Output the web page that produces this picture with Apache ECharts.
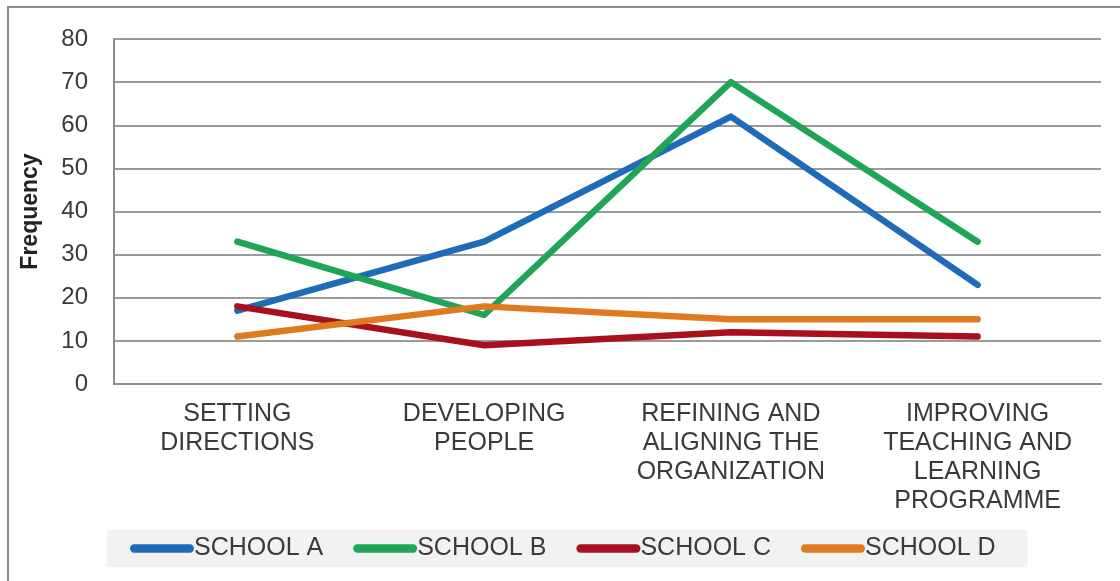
<!DOCTYPE html>
<html style="height: 100%">
<head>
<meta charset="utf-8">
<script src="https://cdn.jsdelivr.net/npm/echarts@6/dist/echarts.min.js"></script>
</head>
<body style="height: 100%; margin: 0; background: #fff">
<div id="container" style="width: 1120px; height: 581px"></div>
<script type="text/javascript">
var categories = [
    'SETTING\nDIRECTIONS',
    'DEVELOPING\nPEOPLE',
    'REFINING AND\nALIGNING THE\nORGANIZATION',
    'IMPROVING\nTEACHING AND\nLEARNING\nPROGRAMME'
];
var schoolNames = ['SCHOOL A', 'SCHOOL B', 'SCHOOL C', 'SCHOOL D'];
var schoolA = [17, 33, 62, 23];
var schoolB = [33, 16, 70, 33];
var schoolC = [18, 9, 12, 11];
var schoolD = [11, 18, 15, 15];
var colors = ['#1e6bb8', '#1fa556', '#a8101c', '#e07a20'];

var FONT = 'Liberation Sans, Arial, sans-serif';
var pill = 'path://M4,0 L58,0 A4,4 0 0 1 58,8 L4,8 A4,4 0 0 1 4,0 Z';

var myChart = echarts.init(document.getElementById('container'));

var series = [schoolA, schoolB, schoolC, schoolD].map(function (d, i) {
    return {
        name: schoolNames[i],
        type: 'line',
        data: d,
        symbol: 'none',
        color: colors[i],
        lineStyle: { width: 6.5, color: colors[i], cap: 'round', join: 'round' }
    };
});

var option = {
    animation: false,
    backgroundColor: '#fff',
    textStyle: { fontFamily: FONT },
    graphic: [{
        type: 'rect',
        shape: { x: 8, y: 7, width: 1130, height: 600 },
        style: { fill: 'none', stroke: '#8c8c8c', lineWidth: 2 },
        silent: true
    }],
    grid: { left: 114, right: 19, top: 39, bottom: 197 },
    legend: {
        left: 107,
        top: 530,
        padding: [6, 32, 6, 23],
        backgroundColor: '#f2f2f2',
        icon: pill,
        itemWidth: 64,
        itemHeight: 9,
        itemGap: 30,
        textStyle: { fontFamily: FONT, fontSize: 25, color: '#3a3a3a', padding: [0, 0, 0, -5] },
        data: schoolNames
    },
    xAxis: {
        type: 'category',
        data: categories,
        axisLine: { lineStyle: { color: '#8c8c8c', width: 2 } },
        axisTick: { show: false },
        axisLabel: {
            interval: 0,
            margin: 16,
            fontFamily: FONT,
            fontSize: 25,
            lineHeight: 29,
            color: '#3a3a3a',
            align: 'center'
        }
    },
    yAxis: {
        type: 'value',
        min: 0,
        max: 80,
        interval: 10,
        name: 'Frequency',
        nameLocation: 'middle',
        nameRotate: 90,
        nameGap: 72,
        nameTextStyle: { fontFamily: FONT, fontSize: 23, fontWeight: 'bold', color: '#222' },
        axisLine: { show: true, lineStyle: { color: '#8c8c8c', width: 2 } },
        axisTick: { show: false },
        axisLabel: { margin: 26, fontFamily: FONT, fontSize: 24, color: '#3a3a3a' },
        splitLine: { lineStyle: { color: '#9a9a9a', width: 2 } }
    },
    series: series
};

myChart.setOption(option);
</script>
</body>
</html>
